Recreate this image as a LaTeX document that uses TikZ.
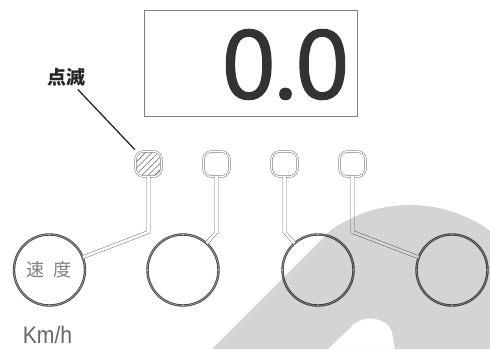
\documentclass[tikz,border=0pt]{standalone}
\usepackage{fontspec}
\newfontfamily\cjk{Noto Sans CJK JP}
\newfontfamily\digitfont{PT Sans}[FakeBold=1.4]
\newfontfamily\unitfont{Liberation Sans}[FakeStretch=0.88]
\usetikzlibrary{patterns.meta}

\begin{document}
\begin{tikzpicture}[x=1pt, y=-1pt,
    panel/.style = {draw=black!50, line width=0.9pt, minimum width=213pt, minimum height=106pt},
    led/.style = {draw=black!55, double=white, double distance=1.3pt, line width=0.5pt,
      rounded corners=8pt, minimum width=26pt, minimum height=25pt, inner sep=0pt},
    ledBlink/.style = {led, pattern={Lines[angle=45, distance=4.5pt, line width=0.6pt]}, pattern color=black!60},
    dial/.style = {circle, draw=black!72, double=black!35, double distance=0.6pt, line width=0.9pt,
      minimum size=71pt, inner sep=0pt},
    stem/.style = {draw=black!55, double=white, double distance=2.6pt, line width=0.5pt},
    leader/.style = {draw=black!85, line width=1.3pt},
    ]
    \useasboundingbox (0,0) rectangle (490,349);

    % display
    \node [panel] (screen) at (251,63.5) {};
    \node [text=black!80, inner sep=0pt, font=\digitfont\fontsize{97}{97}\selectfont] (value) at (285.5,64.5) {0.0};

    % lamps
    \node [ledBlink] (led1) at (148.5,164) {};
    \node [led] (led2) at (216.5,164) {};
    \node [led] (led3) at (284.5,164) {};
    \node [led] (led4) at (352.5,164) {};

    % dials
    \node [dial, text=black!50, font=\cjk\fontsize{18}{18}\selectfont] (dial1) at (49.5,270) {速\hspace{9pt}度};
    \node [dial] (dial2) at (183,270) {};
    \node [dial] (dial3) at (318,270) {};
    \node [dial] (dial4) at (452,270) {};
    \node [text=black!60, inner sep=0.5pt, font=\unitfont\fontsize{24}{24}\selectfont] (unit) at (47.5,334.5) {Km/h};

    % wiring
    \coordinate (bend1) at (148.5,232);
    \coordinate (bend2) at (216.5,232);
    \coordinate (bend3) at (284.5,232);
    \coordinate (bend4) at (352.5,232);
    \draw [stem] (led1) -- (bend1) -- (dial1);
    \draw [stem] (led2) -- (bend2) -- (dial2);
    \draw [stem] (led3) -- (bend3) -- (dial3);
    \draw [stem] (led4) -- (bend4) -- (dial4);

    \node [text=black!85, font=\cjk\bfseries\fontsize{19}{19}\selectfont] (blink) at (66,77) {点滅};
    \draw [leader, shorten >=2pt] (blink) -- (led1);

    % watermark
    \fill [black!17, blend mode=multiply, even odd rule]
      (212,349) -- (331,230) arc [start angle=-125.2, end angle=-54.3, radius=137] -- (490,349) -- cycle
      (328,349) -- (354,324) .. controls (366,314) and (388,318) .. (392,332) -- (395,349) -- cycle;
\end{tikzpicture}
\end{document}
